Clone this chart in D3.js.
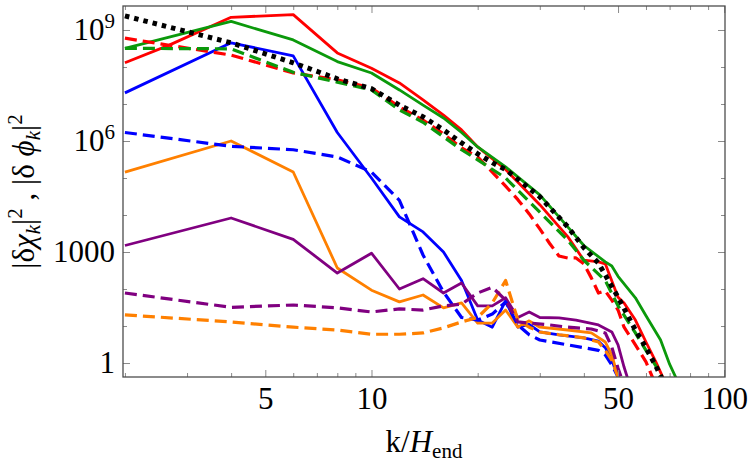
<!DOCTYPE html>
<html>
<head>
<meta charset="utf-8">
<script src="https://cdn.jsdelivr.net/npm/d3@7"></script>
<style>
  body { margin: 0; background: white; }
  svg text { font-family: "Liberation Serif", "DejaVu Serif", serif; }
</style>
</head>
<body>
<div id="container"></div>
<script>
let w = 750;
let h = 465;
let plot = {left: 123, right: 725, top: 6, bottom: 377};
let serif = "'Liberation Serif', 'DejaVu Serif', serif";

// ticks
let xMajor = [5, 10, 50, 100];
let xMinor = [2, 3, 4, 6, 7, 8, 9, 20, 30, 40, 60, 70, 80, 90];
let yMajor = [1, 1e3, 1e6, 1e9];
let yMinor = [10, 100, 1e4, 1e5, 1e7, 1e8];

// series: k values and spectra
let kBlack = [2, 4, 6, 8, 10, 12, 14, 16, 18, 20, 22, 24, 30, 36, 40, 44, 50, 56, 60, 64, 68];
let vBlack = [2.4e9, 4.5e8, 1.3e8, 4.8e7, 2.6e7, 9.3e6, 4.5e6, 2.0e6, 8.9e5, 4.5e5, 2.6e5, 1.7e5, 3.1e4, 4.8e3, 1.3e3, 500, 60, 7.8, 2.6, 0.83, 0.25];

let kRed = [2, 2.67, 4, 6, 8, 10, 12, 14, 16, 18, 20, 24, 30, 36, 40, 44, 46, 50, 52, 56, 60, 64, 68];
let vRed = [1.3e8, 3.9e8, 2.2e9, 2.6e9, 2.4e8, 9.3e7, 3.7e7, 1.3e7, 5.0e6, 2.0e6, 6.9e5, 1.7e5, 1.9e4, 2.6e3, 600, 540, 480, 60, 42, 14.5, 3.7, 1.07, 0.3];

let kGreen = [2, 4, 6, 8, 10, 12, 14, 16, 18, 20, 24, 30, 36, 40, 46, 48, 50, 56, 60, 66, 70, 74];
let vGreen = [3.2e8, 1.7e9, 5.4e8, 1.4e8, 6.9e7, 2.4e7, 9.3e6, 4.2e6, 1.7e6, 6.9e5, 2.0e5, 3.5e4, 4.8e3, 1.5e3, 540, 420, 220, 58, 19, 4.2, 0.93, 0.3];

let kBlue = [2, 4, 6, 8, 10, 12, 14, 16, 18, 20, 22, 24, 26, 28, 30, 34, 40, 44, 46, 48, 50, 51];
let vBlue = [2.0e7, 4.5e8, 2.0e8, 1.7e6, 1.0e5, 8.9e3, 3.5e3, 1.0e3, 170, 14.5, 9.3, 48, 9.3, 11, 6.9, 5.8, 4.8, 3.9, 2.6, 1.2, 0.42, 0.25];

let kOrange = [2, 4, 6, 8, 10, 12, 14, 16, 18, 20, 22, 24, 26, 28, 30, 36, 42, 46, 48, 50, 51];
let vOrange = [1.45e5, 1.0e6, 1.45e5, 370, 93, 45, 69, 31, 42, 12, 12, 27, 9.3, 13.8, 9.3, 7.8, 6.5, 3.7, 1.66, 0.42, 0.25];

let kPurple = [2, 4, 6, 8, 10, 12, 14, 16, 18, 20, 22, 24, 26, 28, 30, 34, 38, 44, 48, 50, 52, 54];
let vPurple = [1.5e3, 8.3e3, 2.2e3, 270, 930, 100, 190, 78, 145, 35, 35, 58, 17, 24, 17, 16.6, 14.5, 10.7, 6.9, 3.1, 0.78, 0.25];

let kRedD = [2, 4, 6, 8, 10, 12, 14, 16, 18, 20, 22, 24, 26, 28, 30, 32, 34, 36, 38, 40, 42, 44, 46, 48, 50, 52, 56, 60, 64];
let vRedD = [6.0e8, 2.1e8, 6.9e7, 4.5e7, 2.7e7, 8.3e6, 3.7e6, 1.55e6, 6.5e5, 3.7e5, 1.45e5, 6.0e4, 2.6e4, 1.07e4, 4.2e3, 1.7e3, 780, 690, 690, 480, 200, 78, 89, 50, 27, 9.3, 3.1, 1.07, 0.25];

let kGreenD = [2, 4, 6, 8, 10, 12, 14, 16, 18, 20, 24, 30, 36, 40, 46, 50, 56, 60, 64, 68];
let vGreenD = [3.2e8, 3.1e8, 7.2e7, 3.9e7, 2.4e7, 6.9e6, 3.2e6, 1.3e6, 5.8e5, 3.1e5, 1.0e5, 1.2e4, 2.1e3, 600, 170, 35, 6.5, 2.2, 0.83, 0.25];

let kBlueD = [2, 4, 6, 8, 10, 12, 14, 16, 18, 20, 22, 24, 26, 28, 30, 36, 44, 46, 48, 50, 51];
let vBlueD = [1.7e6, 7.2e5, 5.8e5, 3.7e5, 1.45e5, 2.5e4, 830, 83, 17, 14.5, 21, 45, 10.7, 5.8, 4.2, 3.1, 2.2, 1.66, 0.89, 0.42, 0.25];

let kOrangeD = [2, 4, 6, 8, 10, 12, 14, 16, 18, 20, 22, 24, 26, 28, 30, 34, 40, 44, 46, 48, 50, 51];
let vOrangeD = [20, 12.9, 9.3, 7.8, 6.0, 6.0, 6.5, 8.9, 12.9, 17, 42, 170, 14.5, 9.3, 6.9, 5.8, 4.8, 3.7, 2.2, 1.2, 0.42, 0.25];

let kPurpleD = [2, 4, 6, 8, 10, 12, 14, 16, 18, 20, 22, 24, 26, 28, 32, 36, 42, 46, 48, 50, 52];
let vPurpleD = [78, 32, 37, 31, 24, 29, 27, 35, 39, 78, 112, 50, 12.9, 12, 10.7, 9.3, 8.3, 6.5, 2.7, 0.72, 0.25];

let red = "#ff0000";
let green = "#0b990b";
let blue = "#0000ff";
let orange = "#ff8000";
let purple = "#800080";

let series = [
  {k: kRed, v: vRed, color: red, dash: null},
  {k: kGreen, v: vGreen, color: green, dash: null},
  {k: kBlue, v: vBlue, color: blue, dash: null},
  {k: kOrange, v: vOrange, color: orange, dash: null},
  {k: kPurple, v: vPurple, color: purple, dash: null},
  {k: kRedD, v: vRedD, color: red, dash: "12,6"},
  {k: kGreenD, v: vGreenD, color: green, dash: "12,6"},
  {k: kBlueD, v: vBlueD, color: blue, dash: "12,6"},
  {k: kOrangeD, v: vOrangeD, color: orange, dash: "12,6"},
  {k: kPurpleD, v: vPurpleD, color: purple, dash: "12,6"},
  {k: kBlack, v: vBlack, color: "black", dash: "4.5,5", width: 5}
];

let x = d3.scaleLog().domain([1.975, 100.5]).range([plot.left, plot.right]);
let y = d3.scaleLog().domain([0.419, 4.45e9]).range([plot.bottom, plot.top]);

let viz = d3.select("#container")
  .append("svg")
    .attr("width", w)
    .attr("height", h)
    .style("background-color", "white");

viz.append("clipPath").attr("id", "clip")
  .append("rect")
    .attr("x", plot.left).attr("y", plot.top)
    .attr("width", plot.right - plot.left).attr("height", plot.bottom - plot.top);

// lines
let line = d3.line().x(d => x(d[0])).y(d => y(d[1]));

let lines = viz.append("g").attr("clip-path", "url(#clip)");
series.forEach(s => {
  lines.append("path")
    .datum(s.k.map((k, i) => [k, s.v[i]]))
    .attr("d", line)
    .attr("fill", "none")
    .attr("stroke", s.color)
    .attr("stroke-width", s.width || (s.dash ? 3.2 : 2.8))
    .attr("stroke-dasharray", s.dash)
    .attr("stroke-linejoin", "round");
});

// ticks
function styleAxis(g) {
  g.attr("font-family", serif).attr("font-size", 31);
  g.select(".domain").remove();
  g.selectAll(".tick line").attr("stroke", "#8a8a8a").attr("stroke-width", 1);
  g.selectAll(".tick text").attr("fill", "black");
}

viz.append("g").attr("transform", "translate(0," + plot.bottom + ")")
  .call(d3.axisBottom(x).tickValues(xMajor).tickSize(-7).tickPadding(10).tickFormat(d3.format("d")))
  .call(styleAxis);
viz.append("g").attr("transform", "translate(0," + plot.bottom + ")")
  .call(d3.axisBottom(x).tickValues(xMinor).tickSize(-4).tickFormat(""))
  .call(styleAxis);
viz.append("g").attr("transform", "translate(0," + plot.top + ")")
  .call(d3.axisTop(x).tickValues(xMajor).tickSize(-7).tickFormat(""))
  .call(styleAxis);
viz.append("g").attr("transform", "translate(0," + plot.top + ")")
  .call(d3.axisTop(x).tickValues(xMinor).tickSize(-4).tickFormat(""))
  .call(styleAxis);

let yAxis = viz.append("g").attr("transform", "translate(" + plot.left + ",0)")
  .call(d3.axisLeft(y).tickValues(yMajor).tickSize(-7).tickPadding(8).tickFormat(d3.format("d")))
  .call(styleAxis);
viz.append("g").attr("transform", "translate(" + plot.left + ",0)")
  .call(d3.axisLeft(y).tickValues(yMinor).tickSize(-4).tickFormat(""))
  .call(styleAxis);
viz.append("g").attr("transform", "translate(" + plot.right + ",0)")
  .call(d3.axisRight(y).tickValues(yMajor).tickSize(-7).tickFormat(""))
  .call(styleAxis);
viz.append("g").attr("transform", "translate(" + plot.right + ",0)")
  .call(d3.axisRight(y).tickValues(yMinor).tickSize(-4).tickFormat(""))
  .call(styleAxis);

// powers of ten as 10^n
yAxis.selectAll(".tick text").each(function(d) {
  let e = Math.round(Math.log10(d));
  if (e >= 6) {
    let t = d3.select(this).text("");
    t.append("tspan").text("10");
    t.append("tspan").text(e).attr("font-size", 21).attr("dy", "-12");
  }
});

// frame
viz.append("rect")
  .attr("x", plot.left).attr("y", plot.top)
  .attr("width", plot.right - plot.left).attr("height", plot.bottom - plot.top)
  .attr("fill", "none")
  .attr("stroke", "#4d4d4d")
  .attr("stroke-width", 1.3);

function addParts(t, parts) {
  parts.forEach(p => {
    let s = t.append("tspan").text(p.t);
    if (p.i) s.style("font-style", "italic");
    if (p.size) s.style("font-size", p.size);
    if (p.dy) s.attr("dy", p.dy);
  });
}

// axis labels
let xLabel = viz.append("text")
  .attr("x", (plot.left + plot.right) / 2)
  .attr("y", 452)
  .attr("text-anchor", "middle")
  .attr("font-family", serif)
  .style("font-size", "31px");
addParts(xLabel, [
  {t: "k/"},
  {t: "H", i: true},
  {t: "end", size: "21px", dy: 6}
]);

let yLabel = viz.append("text")
  .attr("transform", "translate(34," + (plot.top + plot.bottom) / 2 + ") rotate(-90)")
  .attr("text-anchor", "middle")
  .attr("font-family", serif)
  .style("font-size", "31px");
addParts(yLabel, [
  {t: "|δ"},
  {t: "χ", i: true},
  {t: "k", i: true, size: "21px", dy: 6},
  {t: "|", dy: -6},
  {t: "2", size: "21px", dy: -12},
  {t: " , |δ ", dy: 12},
  {t: "ϕ", i: true},
  {t: "k", i: true, size: "21px", dy: 6},
  {t: "|", dy: -6},
  {t: "2", size: "21px", dy: -12}
]);
</script>
</body>
</html>
